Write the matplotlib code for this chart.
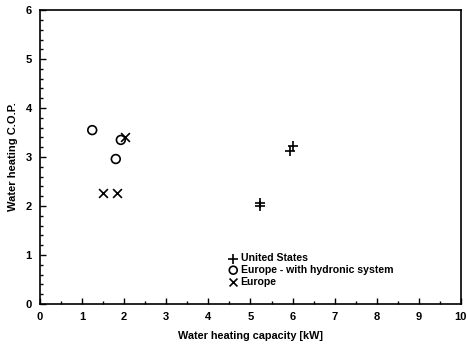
import matplotlib
matplotlib.use("Agg")
import matplotlib.pyplot as plt
from matplotlib.ticker import MultipleLocator

us_x = [6.02, 5.95, 5.23, 5.23]
us_y = [3.22, 3.13, 2.07, 2.00]
hyd_x = [1.24, 1.80, 1.92]
hyd_y = [3.55, 2.96, 3.35]
eu_x = [2.02, 1.50, 1.83]
eu_y = [3.40, 2.27, 2.26]

plt.rcParams['font.family'] = ['Liberation Sans', 'DejaVu Sans']
fig = plt.figure(figsize=(4.67, 3.49), dpi=100)
ax = fig.add_axes([0.0857, 0.129, 0.9013, 0.842])

ax.scatter(us_x, us_y, marker='+', s=55, c='black', linewidths=1.2, label='United States')
ax.scatter(hyd_x, hyd_y, marker='o', s=40, facecolors='none', edgecolors='black', linewidths=1.2,
           label='Europe - with hydronic system')
ax.scatter(eu_x, eu_y, marker='x', s=40, c='black', linewidths=1.2, label='Europe')

ax.set_xlim(0, 10)
ax.set_ylim(0, 6)
ax.xaxis.set_major_locator(MultipleLocator(1))
ax.xaxis.set_minor_locator(MultipleLocator(0.5))
ax.yaxis.set_major_locator(MultipleLocator(1))
ax.yaxis.set_minor_locator(MultipleLocator(0.2))
ax.tick_params(which='both', direction='in', top=False, right=False, labelsize=8, width=1)
ax.tick_params(which='major', length=4, pad=6)
ax.tick_params(which='minor', length=2)
for lab in ax.get_xticklabels() + ax.get_yticklabels():
    lab.set_fontweight('bold')
for sp in ax.spines.values():
    sp.set_linewidth(1.2)

ax.set_xlabel('Water heating capacity [kW]', fontsize=7.8, fontweight='bold', labelpad=6)
ax.set_ylabel('Water heating C.O.P.', fontsize=8, fontweight='bold', labelpad=5)

leg = ax.legend(loc='lower left', bbox_to_anchor=(0.439, 0.045), frameon=False,
                fontsize=7.6, handlelength=0.8, handletextpad=0.3, labelspacing=0.15,
                borderaxespad=0, markerscale=0.9)
for t in leg.get_texts():
    t.set_fontweight('bold')

fig.savefig('out.png', dpi=100)
